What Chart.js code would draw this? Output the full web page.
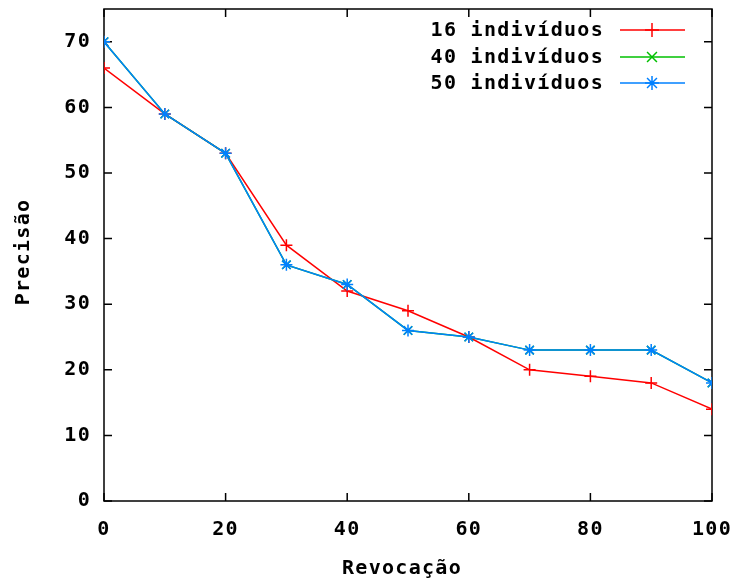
<!DOCTYPE html>
<html>
<head>
<meta charset="utf-8">
<script src="https://cdn.jsdelivr.net/npm/chart.js@4/dist/chart.umd.min.js"></script>
<style>
html,body{margin:0;padding:0;background:#fff;}
#wrap{width:738px;height:583px;position:relative;}
</style>
</head>
<body>
<div id="wrap"><canvas id="c" width="738" height="583"></canvas></div>
<script>
const revocacao = [0, 10, 20, 30, 40, 50, 60, 70, 80, 90, 100];
const ind16 = [66, 59, 53, 39, 32, 29, 25, 20, 19, 18, 14];
const ind40 = [70, 59, 53, 36, 33, 26, 25, 23, 23, 23, 18];
const ind50 = [70, 59, 53, 36, 33, 26, 25, 23, 23, 23, 18];
const xTicks = [0, 20, 40, 60, 80, 100];
const yTicks = [0, 10, 20, 30, 40, 50, 60, 70];
const seriesNames = ['16 indivíduos', '40 indivíduos', '50 indivíduos'];
const xTitle = 'Revocação';
const yTitle = 'Precisão';

const FONT = 'bold 20px "DejaVu Sans Mono"';
const SPACING = '1.3px';
const colors = ['#ff0000', '#00c000', '#0080ff'];
const styles = ['cross', 'crossRot', 'star'];

function toPts(arr){ return revocacao.map((x,i)=>({x:x, y:arr[i]})); }

const framePlugin = {
  id: 'frame',
  beforeLayout(chart){ chart.ctx.letterSpacing = SPACING; },
  beforeDraw(chart){ chart.ctx.letterSpacing = SPACING; },
  beforeDatasetsDraw(chart){
    const {ctx, chartArea:a, scales} = chart;
    ctx.save();
    ctx.strokeStyle = '#000';
    ctx.lineWidth = 1.5;
    ctx.strokeRect(a.left, a.top, a.right - a.left, a.bottom - a.top);
    const L = 8;
    ctx.beginPath();
    yTicks.forEach(v => {
      const y = scales.y.getPixelForValue(v);
      ctx.moveTo(a.left, y); ctx.lineTo(a.left + L, y);
      ctx.moveTo(a.right, y); ctx.lineTo(a.right - L, y);
    });
    xTicks.forEach(v => {
      const x = scales.x.getPixelForValue(v);
      ctx.moveTo(x, a.bottom); ctx.lineTo(x, a.bottom - L);
      ctx.moveTo(x, a.top); ctx.lineTo(x, a.top + L);
    });
    ctx.stroke();
    ctx.restore();
  },
  afterDraw(chart){
    const {ctx} = chart;
    ctx.save();
    ctx.letterSpacing = SPACING;
    ctx.font = FONT;
    ctx.fillStyle = '#000';
    ctx.textAlign = 'center';
    ctx.textBaseline = 'middle';
    ctx.fillText(xTitle, 402, 569);
    ctx.save();
    ctx.translate(24, 252);
    ctx.rotate(-Math.PI/2);
    ctx.fillText(yTitle, 0, 0);
    ctx.restore();
    const rows = [30, 57, 83];
    chart.data.datasets.forEach((ds, i) => {
      const y = rows[i];
      ctx.fillStyle = '#000';
      ctx.textAlign = 'right';
      ctx.fillText(seriesNames[i], 604, y + 1);
      ctx.strokeStyle = ds.borderColor;
      ctx.lineWidth = 1.5;
      ctx.beginPath();
      ctx.moveTo(620, y); ctx.lineTo(685, y);
      ctx.stroke();
      Chart.helpers.drawPoint(ctx, {pointStyle: ds.pointStyle, radius: 7, borderWidth: 1.5, rotation: 0}, 652, y);
    });
    ctx.restore();
  }
};

const datasets = [ind16, ind40, ind50].map((arr, i) => ({
  label: seriesNames[i],
  data: toPts(arr),
  borderColor: colors[i],
  backgroundColor: colors[i],
  borderWidth: 1.5,
  pointStyle: styles[i],
  pointRadius: 6,
  pointBorderWidth: 1.5,
  pointHoverRadius: 6,
  tension: 0,
  order: 2 - i
}));

new Chart(document.getElementById('c'), {
  type: 'line',
  data: { datasets },
  plugins: [framePlugin],
  options: {
    responsive: false,
    animation: false,
    events: [],
    layout: { padding: { left: 0, right: 26, top: 9, bottom: 0 } },
    plugins: { legend: { display: false }, tooltip: { enabled: false } },
    scales: {
      x: {
        type: 'linear', min: 0, max: 100,
        grid: { display: false, drawTicks: false }, border: { display: false },
        afterBuildTicks: s => { s.ticks = xTicks.map(v => ({value: v})); },
        afterFit: s => { s.height = 82; s.paddingLeft = 0; s.paddingRight = 0; s.paddingTop = 0; s.paddingBottom = 0; },
        ticks: { font: { family: 'DejaVu Sans Mono', size: 20, weight: 'bold' }, color: '#000', padding: 17, maxRotation: 0, autoSkip: false }
      },
      y: {
        type: 'linear', min: 0, max: 75,
        grid: { display: false, drawTicks: false }, border: { display: false },
        afterBuildTicks: s => { s.ticks = yTicks.map(v => ({value: v})); },
        afterFit: s => { s.width = 104; s.paddingTop = 0; s.paddingBottom = 0; s.paddingLeft = 0; s.paddingRight = 0; },
        ticks: { font: { family: 'DejaVu Sans Mono', size: 20, weight: 'bold' }, color: '#000', padding: 13, autoSkip: false }
      }
    }
  }
});
</script>
</body>
</html>
